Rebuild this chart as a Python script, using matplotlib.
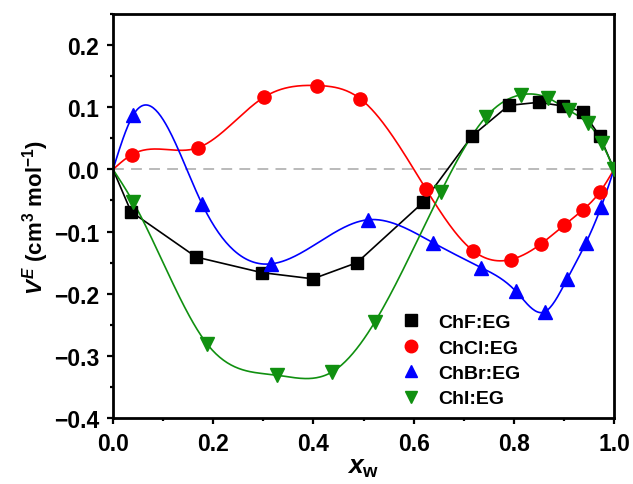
import numpy as np
import matplotlib

matplotlib.use("Agg")
import matplotlib.pyplot as plt  # noqa: E402
from matplotlib.lines import Line2D  # noqa: E402
from matplotlib.ticker import MultipleLocator  # noqa: E402

plt.rcParams["font.family"] = ["Liberation Sans", "DejaVu Sans"]
plt.rcParams["font.weight"] = "bold"
plt.rcParams["mathtext.fontset"] = "custom"
plt.rcParams["mathtext.rm"] = "Liberation Sans:bold"
plt.rcParams["mathtext.it"] = "Liberation Sans:italic:bold"
plt.rcParams["mathtext.bf"] = "Liberation Sans:bold"

# excess molar volume vs water mole fraction
chf_x = [0.0, 0.036, 0.166, 0.297, 0.399, 0.487, 0.619, 0.717, 0.790, 0.850, 0.898, 0.938, 0.972, 1.0]
chf_y = [0.0, -0.068, -0.141, -0.166, -0.176, -0.150, -0.053, 0.054, 0.103, 0.108, 0.102, 0.093, 0.053, 0.0]

chcl_x = [0.0, 0.038, 0.170, 0.301, 0.407, 0.493, 0.625, 0.719, 0.794, 0.854, 0.900, 0.938, 0.972, 1.0]
chcl_y = [0.0, 0.024, 0.035, 0.116, 0.135, 0.114, -0.032, -0.131, -0.145, -0.120, -0.090, -0.065, -0.036, 0.0]

chbr_x = [0.0, 0.040, 0.178, 0.315, 0.509, 0.639, 0.735, 0.804, 0.862, 0.906, 0.944, 0.974, 1.0]
chbr_y = [0.0, 0.087, -0.056, -0.152, -0.081, -0.118, -0.158, -0.196, -0.229, -0.177, -0.118, -0.061, 0.0]

chi_x = [0.0, 0.040, 0.188, 0.327, 0.437, 0.523, 0.654, 0.745, 0.814, 0.868, 0.910, 0.948, 0.976, 1.0]
chi_y = [0.0, -0.052, -0.281, -0.331, -0.326, -0.245, -0.037, 0.085, 0.120, 0.115, 0.095, 0.074, 0.042, 0.0]

labels = ["ChF:EG", "ChCl:EG", "ChBr:EG", "ChI:EG"]


def spline(x, y, n=400):
    # natural cubic spline, only used to draw the smooth guide lines
    x = np.asarray(x, float)
    y = np.asarray(y, float)
    m = len(x)
    h = np.diff(x)
    A = np.zeros((m, m))
    b = np.zeros(m)
    A[0, 0] = A[-1, -1] = 1.0
    for i in range(1, m - 1):
        A[i, i - 1] = h[i - 1]
        A[i, i] = 2 * (h[i - 1] + h[i])
        A[i, i + 1] = h[i]
        b[i] = 3 * ((y[i + 1] - y[i]) / h[i] - (y[i] - y[i - 1]) / h[i - 1])
    c = np.linalg.solve(A, b)
    xs = np.linspace(x[0], x[-1], n)
    k = np.clip(np.searchsorted(x, xs) - 1, 0, m - 2)
    dx = xs - x[k]
    bb = (y[k + 1] - y[k]) / h[k] - h[k] * (2 * c[k] + c[k + 1]) / 3
    dd = (c[k + 1] - c[k]) / (3 * h[k])
    return xs, y[k] + bb * dx + c[k] * dx ** 2 + dd * dx ** 3


fig = plt.figure(figsize=(6.33, 4.85), dpi=100)
ax = fig.add_axes([0.1785, 0.136, 0.7915, 0.833])

ax.axhline(0, color="#b4b4b4", lw=1.3, ls=(0, (6, 4)), zorder=1)

ms = 9
green = "#109010"
ax.plot(chf_x, chf_y, color="black", lw=1.2, zorder=2)
ax.plot(chf_x[1:-1], chf_y[1:-1], "s", color="black", ms=ms, ls="none", zorder=3)

for xs, ys, col, mk, end in [(chcl_x, chcl_y, "red", "o", -1),
                             (chbr_x, chbr_y, "blue", "^", -1),
                             (chi_x, chi_y, green, "v", None)]:
    sx, sy = spline(xs, ys)
    ax.plot(sx, sy, color=col, lw=1.2, zorder=2)
    ax.plot(xs[1:end], ys[1:end], mk, color=col, ms=ms + (1 if mk != "o" else 0.5),
            ls="none", zorder=3)

ax.set_xlim(0, 1)
ax.set_ylim(-0.4, 0.25)
ax.xaxis.set_minor_locator(MultipleLocator(0.1))
ax.yaxis.set_minor_locator(MultipleLocator(0.05))
ax.set_xticks([0, 0.2, 0.4, 0.6, 0.8, 1.0])
ax.set_xticklabels(["0.0", "0.2", "0.4", "0.6", "0.8", "1.0"])
ax.set_yticks([-0.4, -0.3, -0.2, -0.1, 0.0, 0.1, 0.2])
ax.set_yticklabels(["\u22120.4", "\u22120.3", "\u22120.2", "\u22120.1", "0.0", "0.1", "0.2"])
ax.tick_params(which="major", direction="out", length=4, width=1.6, labelsize=16.5, pad=6)
ax.tick_params(which="minor", direction="out", length=2.5, width=1.6)
for s in ax.spines.values():
    s.set_linewidth(2)

ax.set_xlabel(r"$x_{\mathrm{w}}$", fontsize=19, labelpad=0)
ax.set_ylabel(r"$V^{E}$ (cm$^{3}$ mol$^{-1}$)", fontsize=16, fontweight="bold", labelpad=2)

handles = [Line2D([], [], marker=m, color=c, ls="none", ms=ms)
           for m, c in [("s", "black"), ("o", "red"), ("^", "blue"), ("v", green)]]
ax.legend(handles, labels, loc="upper left", bbox_to_anchor=(0.54, 0.302),
          frameon=False, handlelength=1.0, handletextpad=0.9,
          labelspacing=0.4, prop={"weight": "bold", "size": 14})

fig.savefig("out.png", dpi=100)
